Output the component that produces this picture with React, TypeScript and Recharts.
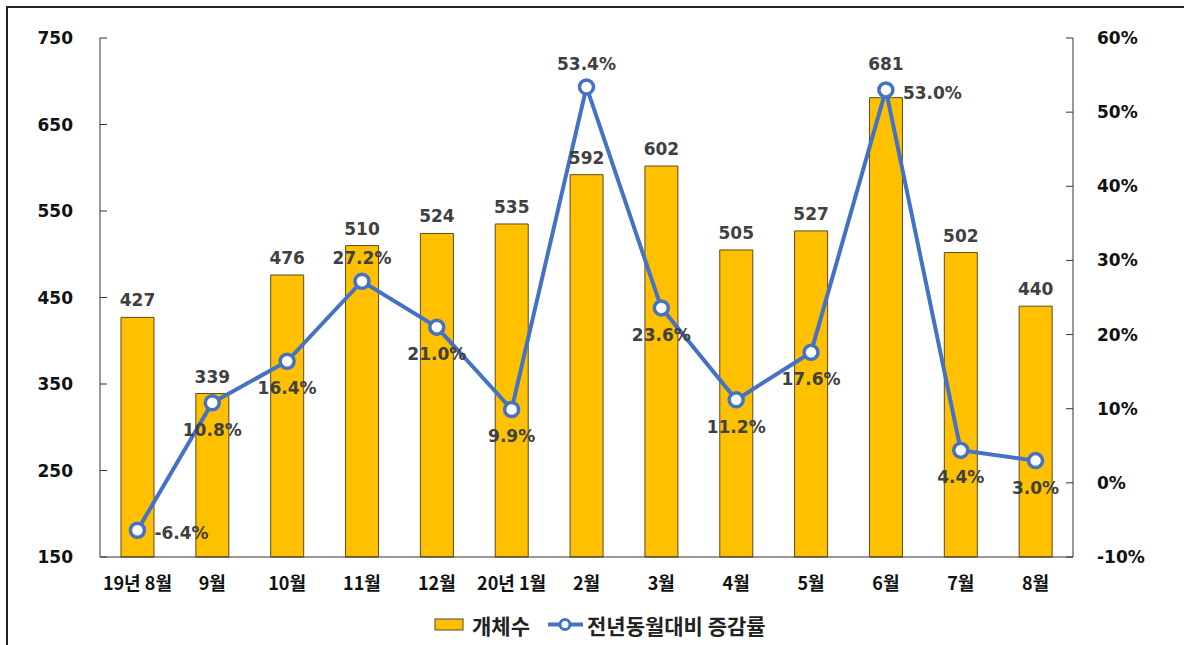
import React from "react";
import { ComposedChart, Bar, Line, XAxis, YAxis, LabelList, Legend } from "recharts";

// categories and values
const months = ["19년 8월", "9월", "10월", "11월", "12월", "20년 1월", "2월", "3월", "4월", "5월", "6월", "7월", "8월"];
const counts = [427, 339, 476, 510, 524, 535, 592, 602, 505, 527, 681, 502, 440];
const growth = [-6.4, 10.8, 16.4, 27.2, 21.0, 9.9, 53.4, 23.6, 11.2, 17.6, 53.0, 4.4, 3.0];
const countTicks = [150, 250, 350, 450, 550, 650, 750];
const growthTicks = [-10, 0, 10, 20, 30, 40, 50, 60];
const edgeTicks = [0, 1, 2, 3, 4, 5, 6, 7, 8, 9, 10, 11, 12, 13];

// where the % labels sit relative to their point (default: below)
const labelAbove = [3, 6];
const labelRight = [0, 10];
// bar labels pushed up to clear a marker
const countRaised = [10];

const BAR = "#FFC000";
const BLUE = "#4472C4";
const NUM_FONT = "'DejaVu Sans', sans-serif";
const KR_FONT = "'Noto Sans CJK KR', 'DejaVu Sans', sans-serif";

const data = months.map((m, i) => ({ month: m, count: counts[i], growth: growth[i] }));

function pos(props: any) {
  const vb = props.viewBox || {};
  return {
    x: typeof props.x === "number" ? props.x : vb.x,
    y: typeof props.y === "number" ? props.y : vb.y,
    w: typeof props.width === "number" ? props.width : vb.width || 0,
  };
}

function CountLabel(props: any) {
  const { x, y, w } = pos(props);
  const lift = countRaised.includes(props.index) ? 34 : 17;
  return (
    <text x={x + w / 2} y={y - lift} textAnchor="middle" dominantBaseline="central"
      fill="#404040" fontFamily={NUM_FONT} fontWeight="bold" fontSize={17}>
      {props.value}
    </text>
  );
}

function GrowthLabel(props: any) {
  const { x, y } = pos(props);
  const i = props.index;
  let tx = x;
  let ty = y + 27;
  let anchor = "middle";
  if (labelAbove.includes(i)) ty = y - 23;
  else if (labelRight.includes(i)) {
    tx = x + 17;
    ty = y + 3;
    anchor = "start";
  }
  return (
    <text x={tx} y={ty} textAnchor={anchor} dominantBaseline="central"
      fill="#404040" fontFamily={NUM_FONT} fontWeight="bold" fontSize={17}>
      {Number(props.value).toFixed(1)}%
    </text>
  );
}

function LegendContent() {
  const txt = { fontFamily: KR_FONT, fontWeight: "bold", fontSize: 21, fill: "#222" } as const;
  return (
    <div style={{ height: 30 }}>
      <svg width={360} height={30} style={{ display: "block", overflow: "visible" }}>
        <rect x={5} y={10} width={28} height={11} fill={BAR} stroke="#5b4a25" />
        <text x={42} y={15.5} dominantBaseline="central" {...txt}>개체수</text>
        <line x1={118} x2={153} y1={15.5} y2={15.5} stroke={BLUE} strokeWidth={4} />
        <circle cx={135} cy={15.5} r={5} fill="#fff" stroke={BLUE} strokeWidth={3} />
        <text x={157} y={15.5} dominantBaseline="central" {...txt}>전년동월대비 증감률</text>
      </svg>
    </div>
  );
}

export default function App() {
  return (
    <div style={{ position: "fixed", left: 0, top: 0, width: 1184, height: 645, background: "#fff", overflow: "hidden" }}>
      <div style={{ position: "absolute", left: 6, top: 6, width: 1300, height: 800, borderTop: "2px solid #222", borderLeft: "2px solid #222" }} />
      <div style={{ position: "absolute", left: 0, top: 0 }}>
        <ComposedChart width={1184} height={645} data={data} margin={{ top: 38, right: 0, left: 0, bottom: 6 }}>
          <XAxis xAxisId="base" type="number" domain={[0, 13]} ticks={edgeTicks} height={1}
            tick={false} tickSize={-5} stroke="#333" allowDataOverflow />
          <XAxis xAxisId="main" dataKey="month" height={51} axisLine={false} tickLine={false} tickSize={0}
            tickMargin={19} interval={0}
            tick={{ fill: "#111", fontFamily: KR_FONT, fontWeight: "bold", fontSize: 18 }} />
          <YAxis yAxisId="left" domain={[150, 750]} ticks={countTicks} width={100} stroke="#333"
            tickSize={-7} tickMargin={34} interval={0}
            tick={{ fill: "#111", fontFamily: NUM_FONT, fontWeight: "bold", fontSize: 17 }} />
          <YAxis yAxisId="right" orientation="right" domain={[-10, 60]} ticks={growthTicks} width={111}
            stroke="#333" tickSize={-7} tickMargin={31} interval={0} tickFormatter={(v) => `${v}%`}
            tick={{ fill: "#111", fontFamily: NUM_FONT, fontWeight: "bold", fontSize: 17 }} />
          <Legend verticalAlign="bottom" content={() => <LegendContent />}
            wrapperStyle={{ left: 430, width: 360, bottom: 6 }} />
          <Bar xAxisId="main" yAxisId="left" dataKey="count" fill={BAR} stroke="#5b4a25" strokeWidth={1}
            barSize={33} isAnimationActive={false}>
            <LabelList dataKey="count" content={CountLabel} />
          </Bar>
          <Line xAxisId="main" yAxisId="right" dataKey="growth" stroke={BLUE} strokeWidth={4}
            dot={{ r: 7, fill: "#fff", stroke: BLUE, strokeWidth: 3.5 }} isAnimationActive={false}>
            <LabelList dataKey="growth" content={GrowthLabel} />
          </Line>
        </ComposedChart>
      </div>
    </div>
  );
}
